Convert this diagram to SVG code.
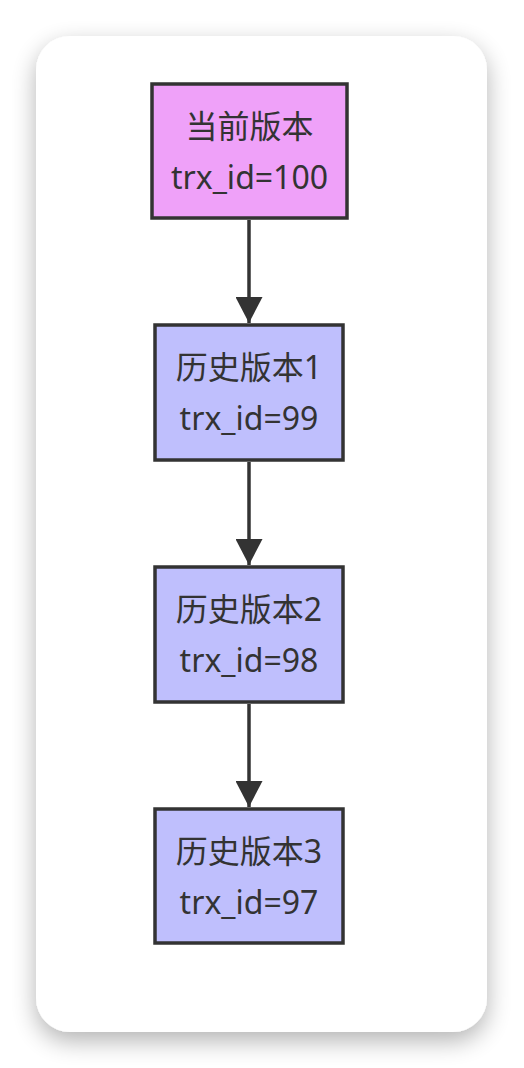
<svg xmlns="http://www.w3.org/2000/svg" width="524" height="1068" viewBox="0 0 524 1068">
<defs>
<filter id="shadow" x="-30%" y="-10%" width="160%" height="125%">
<feGaussianBlur in="SourceAlpha" stdDeviation="12"/>
<feOffset dy="9" result="b"/>
<feComponentTransfer><feFuncA type="linear" slope="0.3"/></feComponentTransfer>
<feMerge><feMergeNode/><feMergeNode in="SourceGraphic"/></feMerge>
</filter>
<marker id="arrow" viewBox="0 0 26 27" refX="26" refY="13.5" markerWidth="26" markerHeight="27" markerUnits="userSpaceOnUse" orient="auto">
<path d="M0,0 L26,13.5 L0,27 Z" fill="#333"/>
</marker>
<style>
.node rect{stroke:#333;stroke-width:3.5}
.cur rect{fill:#efa1f9}
.hist rect{fill:#bfbffd}
.node text{font-family:"Noto Sans","Noto Sans CJK SC",sans-serif;font-size:32px;fill:#333;text-anchor:middle}
.edge{stroke:#333;stroke-width:3.5;fill:none;marker-end:url(#arrow)}
</style>
</defs>
<rect width="524" height="1068" fill="#ffffff"/>
<rect x="36" y="36" width="451" height="996" rx="34" ry="34" fill="#ffffff" filter="url(#shadow)"/>
<g id="connectors">
<line class="edge" x1="249" y1="220" x2="249" y2="323"/>
<line class="edge" x1="249" y1="462" x2="249" y2="565"/>
<line class="edge" x1="249" y1="704" x2="249" y2="807"/>
</g>
<g id="node-current" class="node cur">
<rect x="152" y="84" width="195" height="134"/>
<text x="249.5" y="138">当前版本</text>
<text x="249.5" y="189">trx_id=100</text>
</g>
<g id="node-v1" class="node hist">
<rect x="155" y="325" width="188" height="135"/>
<text x="249" y="379">历史版本1</text>
<text x="249" y="430">trx_id=99</text>
</g>
<g id="node-v2" class="node hist">
<rect x="155" y="567" width="188" height="135"/>
<text x="249" y="621">历史版本2</text>
<text x="249" y="672">trx_id=98</text>
</g>
<g id="node-v3" class="node hist">
<rect x="155" y="809" width="188" height="134"/>
<text x="249" y="863">历史版本3</text>
<text x="249" y="914">trx_id=97</text>
</g>
</svg>
